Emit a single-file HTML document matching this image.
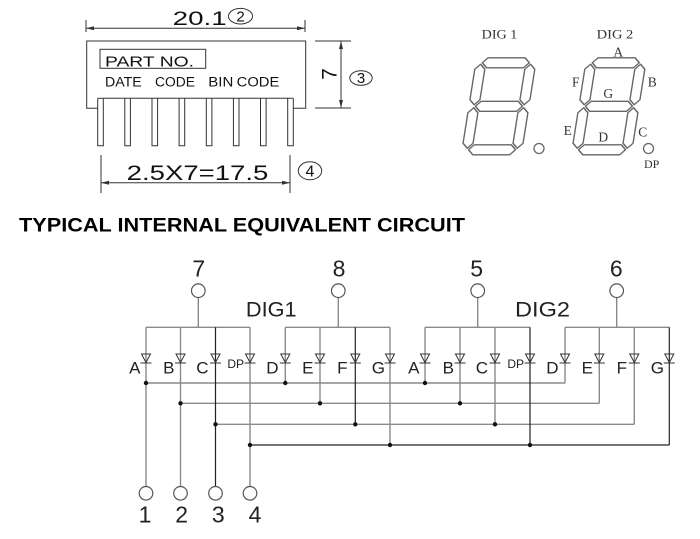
<!DOCTYPE html>
<html><head><meta charset="utf-8"><style>
html,body{margin:0;padding:0;background:#fff;}
svg{display:block;}
text{font-family:"Liberation Sans",Arial,sans-serif;}
text.s,.s text{font-family:"Liberation Serif","Times New Roman",serif;}
</style></head><body>
<svg width="700" height="539" viewBox="0 0 700 539" xmlns="http://www.w3.org/2000/svg">
<rect width="700" height="539" fill="#fff"/>

<!-- ===== Package drawing ===== -->
<g stroke="#333" stroke-width="1" fill="none">
  <line x1="86" y1="20" x2="86" y2="32"/>
  <line x1="305" y1="20" x2="305" y2="32"/>
  <line x1="86" y1="28.3" x2="305" y2="28.3"/>
  <path d="M97.7,108.3 H86.7 V41 H305.7 V108.3 H293.3"/>
  <path d="M97.7,98.3 H293.3"/>
  <path d="M97.7,98.3 V145.7 H103.3 V98.3"/>
  <path d="M124.8,98.3 V145.7 H130.4 V98.3"/>
  <path d="M152,98.3 V145.7 H157.6 V98.3"/>
  <path d="M179.1,98.3 V145.7 H184.7 V98.3"/>
  <path d="M206.3,98.3 V145.7 H211.9 V98.3"/>
  <path d="M233.4,98.3 V145.7 H239 V98.3"/>
  <path d="M260.5,98.3 V145.7 H266.1 V98.3"/>
  <path d="M287.7,98.3 V145.7 H293.3 V98.3"/>
  <rect x="100" y="49.3" width="105.7" height="19"/>
  <line x1="315" y1="41" x2="351" y2="41"/>
  <line x1="315" y1="108" x2="351" y2="108"/>
  <line x1="341" y1="41" x2="341" y2="108"/>
  <line x1="101" y1="155" x2="101" y2="193"/>
  <line x1="290" y1="155" x2="290" y2="193"/>
  <line x1="101" y1="182.7" x2="290" y2="182.7"/>
  <ellipse cx="240.5" cy="16.2" rx="12" ry="7.8"/>
  <ellipse cx="361" cy="78" rx="11.2" ry="7.3"/>
  <ellipse cx="310" cy="170.8" rx="11.7" ry="9"/>
</g>
<g fill="#333">
  <polygon points="86,28.3 94,26.3 94,30.3"/>
  <polygon points="305,28.3 297,26.3 297,30.3"/>
  <polygon points="341,41 339,49 343,49"/>
  <polygon points="341,108 339,100 343,100"/>
  <polygon points="101,182.7 109,180.7 109,184.7"/>
  <polygon points="290,182.7 282,180.7 282,184.7"/>
</g>
<g fill="#111">
  <text x="172.7" y="25" font-size="19" textLength="54" lengthAdjust="spacingAndGlyphs">20.1</text>
  <text x="240.5" y="21.5" font-size="15" text-anchor="middle">2</text>
  <text x="361" y="83" font-size="15" text-anchor="middle">3</text>
  <text x="310" y="176.5" font-size="16" text-anchor="middle">4</text>
  <g transform="translate(329,74) rotate(-90)">
    <text x="0" y="7.5" font-size="21" text-anchor="middle">7</text>
  </g>
  <text x="105" y="66.5" font-size="15" textLength="89" lengthAdjust="spacingAndGlyphs">PART NO.</text>
  <text x="105" y="86.7" font-size="13.5" textLength="36.7" lengthAdjust="spacingAndGlyphs">DATE</text>
  <text x="155" y="86.7" font-size="13.5" textLength="40" lengthAdjust="spacingAndGlyphs">CODE</text>
  <text x="208.3" y="86.7" font-size="13.5" textLength="25" lengthAdjust="spacingAndGlyphs">BIN</text>
  <text x="236.7" y="86.7" font-size="13.5" textLength="42.6" lengthAdjust="spacingAndGlyphs">CODE</text>
  <text x="126.7" y="180" font-size="21" textLength="141.6" lengthAdjust="spacingAndGlyphs">2.5X7=17.5</text>
</g>

<!-- ===== 7-segment digits ===== -->
<defs>
  <g id="dig" fill="none" stroke="#666" stroke-width="1.4" stroke-linejoin="round">
    <polygon points="6.5,5 11.5,0 48.5,0 53.5,5 48.5,10 11.5,10"/>
    <polygon points="6.5,48.5 11.5,43.5 48.5,43.5 53.5,48.5 48.5,53.5 11.5,53.5"/>
    <polygon points="6.5,92 11.5,87 48.5,87 53.5,92 48.5,97 11.5,97"/>
    <polygon points="5,6.5 10,11.5 10,42 5,47 0,42 0,11.5"/>
    <polygon points="55,6.5 60,11.5 60,42 55,47 50,42 50,11.5"/>
    <polygon points="5,50 10,55 10,85.5 5,90.5 0,85.5 0,55"/>
    <polygon points="55,50 60,55 60,85.5 55,90.5 50,85.5 50,55"/>
  </g>
</defs>
<use href="#dig" transform="translate(476.6,57.8) skewX(-9)"/>
<use href="#dig" transform="translate(586.6,57.8) skewX(-9)"/>
<circle cx="539" cy="148.5" r="5" fill="none" stroke="#666" stroke-width="1.3"/>
<circle cx="648.5" cy="148.5" r="5" fill="none" stroke="#666" stroke-width="1.3"/>
<g fill="#333" text-anchor="middle">
  <text class="s" x="499.5" y="38.3" font-size="13" textLength="35.6" lengthAdjust="spacingAndGlyphs">DIG 1</text>
  <text class="s" x="615" y="38.3" font-size="13" textLength="36.6" lengthAdjust="spacingAndGlyphs">DIG 2</text>
  <text class="s" x="618.3" y="56.5" font-size="13.5">A</text>
  <text class="s" x="575.7" y="86.5" font-size="13.5">F</text>
  <text class="s" x="652.3" y="86.5" font-size="13.5">B</text>
  <text class="s" x="608.3" y="98" font-size="13.5">G</text>
  <text class="s" x="567.7" y="135" font-size="13.5">E</text>
  <text class="s" x="603.3" y="141.5" font-size="13.5">D</text>
  <text class="s" x="642.7" y="136.5" font-size="13.5">C</text>
  <text class="s" x="651.7" y="168" font-size="12">DP</text>
</g>

<!-- ===== Title ===== -->
<text x="19" y="231.6" font-size="19" font-weight="bold" fill="#000" textLength="446" lengthAdjust="spacingAndGlyphs">TYPICAL INTERNAL EQUIVALENT CIRCUIT</text>

<!-- ===== Circuit ===== -->
<g fill="none" stroke="#8a8a8a" stroke-width="1.4">
  <line x1="198.3" y1="297.5" x2="198.3" y2="327.3"/>
  <line x1="338.3" y1="297.5" x2="338.3" y2="327.3"/>
  <line x1="477.7" y1="297.5" x2="477.7" y2="327.3"/>
  <line x1="616.7" y1="297.5" x2="616.7" y2="327.3"/>
  <line x1="146" y1="327.3" x2="250" y2="327.3"/>
  <line x1="285.3" y1="327.3" x2="390" y2="327.3"/>
  <line x1="425" y1="327.3" x2="530" y2="327.3"/>
  <line x1="565" y1="327.3" x2="669.3" y2="327.3"/>
  <line x1="146" y1="327.3" x2="146" y2="486.5"/>
  <line x1="180.5" y1="327.3" x2="180.5" y2="486.5"/>
  <line x1="250" y1="327.3" x2="250" y2="486.5"/>
  <line x1="285.3" y1="327.3" x2="285.3" y2="383"/>
  <line x1="320" y1="327.3" x2="320" y2="403.3"/>
  <line x1="390" y1="327.3" x2="390" y2="445"/>
  <line x1="425" y1="327.3" x2="425" y2="383"/>
  <line x1="460" y1="327.3" x2="460" y2="403.3"/>
  <line x1="495" y1="327.3" x2="495" y2="424.3"/>
  <line x1="565" y1="327.3" x2="565" y2="383"/>
  <line x1="599.3" y1="327.3" x2="599.3" y2="403.3"/>
  <line x1="634.3" y1="327.3" x2="634.3" y2="424.3"/>
  <line x1="146" y1="383" x2="565" y2="383"/>
  <line x1="180.5" y1="403.3" x2="599.3" y2="403.3"/>
  <line x1="215.5" y1="424.3" x2="634.3" y2="424.3"/>
</g>
<g fill="none" stroke="#222" stroke-width="1.2">
  <line x1="215.5" y1="327.3" x2="215.5" y2="486.5"/>
  <line x1="355.3" y1="327.3" x2="355.3" y2="424.3"/>
  <line x1="530" y1="327.3" x2="530" y2="445"/>
  <line x1="669.3" y1="327.3" x2="669.3" y2="445"/>
  <line x1="250" y1="445" x2="669.3" y2="445"/>
</g>
<g fill="#fff" stroke="#555" stroke-width="1.2">
  <circle cx="198.3" cy="290.7" r="6.8"/>
  <circle cx="338.3" cy="290.7" r="6.8"/>
  <circle cx="477.7" cy="290.7" r="6.8"/>
  <circle cx="616.7" cy="290.7" r="6.8"/>
  <circle cx="146" cy="493.3" r="6.8"/>
  <circle cx="180.5" cy="493.3" r="6.8"/>
  <circle cx="215.5" cy="493.3" r="6.8"/>
  <circle cx="250" cy="493.3" r="6.8"/>
</g>
<g fill="none" stroke="#333" stroke-width="1">
  <path d="M141.5,354 H150.5 L146,362.5 Z M140.5,363 H151.5"/>
  <path d="M176,354 H185 L180.5,362.5 Z M175,363 H186"/>
  <path d="M211,354 H220 L215.5,362.5 Z M210,363 H221"/>
  <path d="M245.5,354 H254.5 L250,362.5 Z M244.5,363 H255.5"/>
  <path d="M280.8,354 H289.8 L285.3,362.5 Z M279.8,363 H290.8"/>
  <path d="M315.5,354 H324.5 L320,362.5 Z M314.5,363 H325.5"/>
  <path d="M350.8,354 H359.8 L355.3,362.5 Z M349.8,363 H360.8"/>
  <path d="M385.5,354 H394.5 L390,362.5 Z M384.5,363 H395.5"/>
  <path d="M420.5,354 H429.5 L425,362.5 Z M419.5,363 H430.5"/>
  <path d="M455.5,354 H464.5 L460,362.5 Z M454.5,363 H465.5"/>
  <path d="M490.5,354 H499.5 L495,362.5 Z M489.5,363 H500.5"/>
  <path d="M525.5,354 H534.5 L530,362.5 Z M524.5,363 H535.5"/>
  <path d="M560.5,354 H569.5 L565,362.5 Z M559.5,363 H570.5"/>
  <path d="M594.8,354 H603.8 L599.3,362.5 Z M593.8,363 H604.8"/>
  <path d="M629.8,354 H638.8 L634.3,362.5 Z M628.8,363 H639.8"/>
  <path d="M664.8,354 H673.8 L669.3,362.5 Z M663.8,363 H674.8"/>
</g>
<g fill="#111">
  <circle cx="146" cy="383" r="2.2"/>
  <circle cx="180.5" cy="403.3" r="2.2"/>
  <circle cx="215.5" cy="424.3" r="2.2"/>
  <circle cx="250" cy="445" r="2.2"/>
  <circle cx="285.3" cy="383" r="2.2"/>
  <circle cx="320" cy="403.3" r="2.2"/>
  <circle cx="355.3" cy="424.3" r="2.2"/>
  <circle cx="390" cy="445" r="2.2"/>
  <circle cx="425" cy="383" r="2.2"/>
  <circle cx="460" cy="403.3" r="2.2"/>
  <circle cx="495" cy="424.3" r="2.2"/>
  <circle cx="530" cy="445" r="2.2"/>
</g>
<g fill="#222" font-size="17" text-anchor="end">
  <text x="140.5" y="373.5">A</text>
  <text x="174.5" y="373.5">B</text>
  <text x="208.5" y="373.5">C</text>
  <text x="244" y="368" font-size="12">DP</text>
  <text x="278.5" y="373.5">D</text>
  <text x="313.5" y="373.5">E</text>
  <text x="347.5" y="373.5">F</text>
  <text x="385" y="373.5">G</text>
  <text x="419.5" y="373.5">A</text>
  <text x="454" y="373.5">B</text>
  <text x="488" y="373.5">C</text>
  <text x="524" y="368" font-size="12">DP</text>
  <text x="558.5" y="373.5">D</text>
  <text x="593" y="373.5">E</text>
  <text x="627" y="373.5">F</text>
  <text x="664" y="373.5">G</text>
</g>
<g fill="#222" font-size="23" text-anchor="middle">
  <text x="198.8" y="276.7">7</text>
  <text x="339" y="276.7">8</text>
  <text x="476.7" y="276.7">5</text>
  <text x="616.3" y="276.7">6</text>
  <text x="145" y="522.7">1</text>
  <text x="181.7" y="522.7">2</text>
  <text x="218.3" y="522.7">3</text>
  <text x="255" y="522.7">4</text>
  <text x="271.3" y="316.7" font-size="21" textLength="50.7" lengthAdjust="spacingAndGlyphs">DIG1</text>
  <text x="542.5" y="316.7" font-size="21" textLength="55" lengthAdjust="spacingAndGlyphs">DIG2</text>
</g>
</svg>
</body></html>
